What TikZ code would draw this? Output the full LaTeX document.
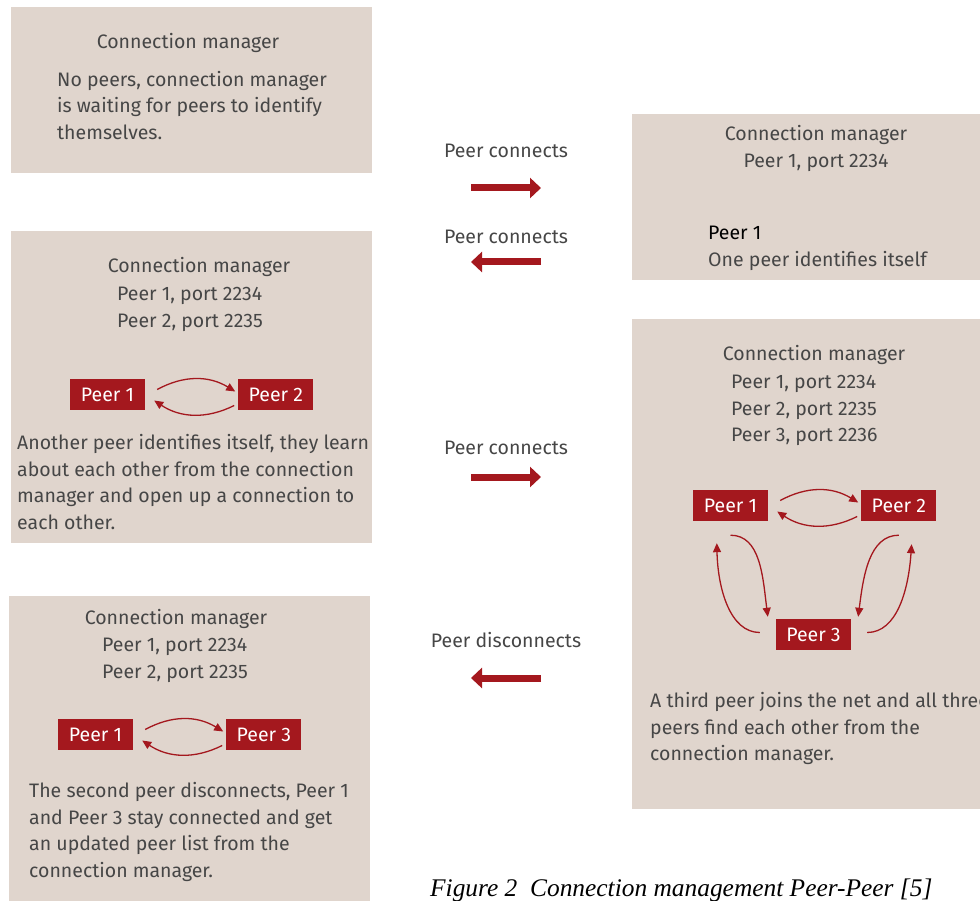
\documentclass[tikz,border=0pt]{standalone}
\usepackage{fontspec}
\setmainfont{Fira Sans}
\newfontfamily\capfont{Liberation Serif}
\usetikzlibrary{arrows.meta,positioning}
\definecolor{pBack}{RGB}{224,213,205}
\definecolor{pRed}{RGB}{164,24,30}
\definecolor{pText}{RGB}{70,70,70}
\newcommand{\txtsize}{\fontsize{19.5}{26.5}\selectfont}
\tikzset{
    panel/.style={fill=pBack, draw=none},
    peer/.style={rectangle, fill=pRed, text=white, inner sep=0pt, minimum width=75pt, minimum height=31pt, font=\txtsize},
    txt/.style={anchor=north west, align=left, inner sep=0pt, text=pText, font=\txtsize},
    ttl/.style={anchor=north, align=center, inner sep=0pt, text=pText, font=\txtsize},
    lbl/.style={anchor=base, inner sep=0pt, text=pText, font=\txtsize},
    flow/.style={line width=7pt, pRed, -{Triangle[length=11pt,width=20pt]}},
    link/.style={line width=1.3pt, pRed, -{Triangle[length=9pt,width=8pt]}}
}

\begin{document}
\begin{tikzpicture}[x=1pt,y=1pt]
\useasboundingbox (0,0) rectangle (980,-901);
% panels
\fill[panel] (11,-7) rectangle (372,-173);
\fill[panel] (11,-231) rectangle (372,-543);
\fill[panel] (9,-596) rectangle (370,-901);
\fill[panel] (632,-114) rectangle (980,-280);
\fill[panel] (632,-319) rectangle (980,-809);

% no peers
\node[ttl] (aT) at (188,-29.5) {\strut Connection manager};
\node[txt] (aB) at (57,-67.5) {\strut No peers, connection manager\\is waiting for peers to identify\\themselves.};

% one peer
\node[ttl] (dT) at (816,-122) {\strut Connection manager\\Peer 1, port 2234};
\node[txt] (dB) at (708,-221) {\strut\textcolor{black}{Peer 1}\\One peer identifies itself};

% two peers
\node[ttl] (bT) at (199,-254) {\strut Connection manager};
\node[txt] (bL) at (117,-282) {\strut Peer 1, port 2234\\Peer 2, port 2235};
\node[peer] (b1) at (107.5,-394.5) {Peer 1};
\node[peer, right=93pt of b1] (b2) {Peer 2};
\draw[link] ([xshift=12pt,yshift=5pt]b1.east) to[bend left=30] ([xshift=-3pt,yshift=3pt]b2.west);
\draw[link] ([xshift=-4pt,yshift=-11pt]b2.west) to[bend left=30] ([xshift=9pt,yshift=-6pt]b1.east);
\node[txt] (bB) at (17,-431) {\strut Another peer identifies itself, they learn\\about each other from the connection\\manager and open up a connection to\\each other.};

% three peers
\node[ttl] (eT) at (814,-342) {\strut Connection manager};
\node[txt] (eL) at (731,-370) {\strut Peer 1, port 2234\\Peer 2, port 2235\\Peer 3, port 2236};
\node[peer] (e1) at (730.5,-505.5) {Peer 1};
\node[peer, right=93pt of e1] (e2) {Peer 2};
\node[peer] (e3) at (813.5,-634.5) {Peer 3};
\draw[link] ([xshift=12pt,yshift=5pt]e1.east) to[bend left=30] ([xshift=-3pt,yshift=3pt]e2.west);
\draw[link] ([xshift=-4pt,yshift=-11pt]e2.west) to[bend left=30] ([xshift=9pt,yshift=-6pt]e1.east);
\draw[link] ([yshift=-14pt]e1.south) .. controls +(30,0) and +(-5,40) .. ([xshift=-8pt,yshift=2pt]e3.north west);
\draw[link] ([xshift=-16pt,yshift=2pt]e3.west) .. controls +(-30,0) and +(1,-45) .. ([xshift=24pt,yshift=-22pt]e1.south west);
\draw[link] ([yshift=-14pt]e2.south) .. controls +(-30,0) and +(5,40) .. ([xshift=7pt,yshift=2pt]e3.north east);
\draw[link] ([xshift=16pt,yshift=2pt]e3.east) .. controls +(30,0) and +(-3,-45) .. ([xshift=-25pt,yshift=-23pt]e2.south east);
\node[txt] (eB) at (650,-689) {\strut A third peer joins the net and all three\\peers find each other from the\\connection manager.};

% one peer left
\node[ttl] (cT) at (176,-606) {\strut Connection manager};
\node[txt] (cL) at (102,-633) {\strut Peer 1, port 2234\\Peer 2, port 2235};
\node[peer] (c1) at (95.5,-734.5) {Peer 1};
\node[peer, right=93pt of c1] (c3) {Peer 3};
\draw[link] ([xshift=12pt,yshift=5pt]c1.east) to[bend left=30] ([xshift=-3pt,yshift=3pt]c3.west);
\draw[link] ([xshift=-4pt,yshift=-11pt]c3.west) to[bend left=30] ([xshift=9pt,yshift=-6pt]c1.east);
\node[txt] (cB) at (29,-779) {\strut The second peer disconnects, Peer 1\\and Peer 3 stay connected and get\\an updated peer list from the\\connection manager.};

% events
\node[lbl] (l1) at (506,-158) {Peer connects};
\node[lbl] (l2) at (506,-244) {Peer connects};
\node[lbl] (l3) at (506,-454) {Peer connects};
\node[lbl] (l4) at (506,-647) {Peer disconnects};
\coordinate (f1a) at (471,-188); \coordinate (f1b) at (541,-188);
\coordinate (f2a) at (541,-262); \coordinate (f2b) at (471,-262);
\coordinate (f3a) at (471,-477); \coordinate (f3b) at (541,-477);
\coordinate (f4a) at (541,-678); \coordinate (f4b) at (471,-678);
\draw[flow] (f1a) -- (f1b);
\draw[flow] (f2a) -- (f2b);
\draw[flow] (f3a) -- (f3b);
\draw[flow] (f4a) -- (f4b);

% caption
\node[anchor=base west, inner sep=0pt, font=\capfont\itshape\fontsize{25.4}{30}\selectfont] (cap) at (430,-896) {Figure 2\ \ Connection management Peer-Peer [5]};
\end{tikzpicture}
\end{document}
